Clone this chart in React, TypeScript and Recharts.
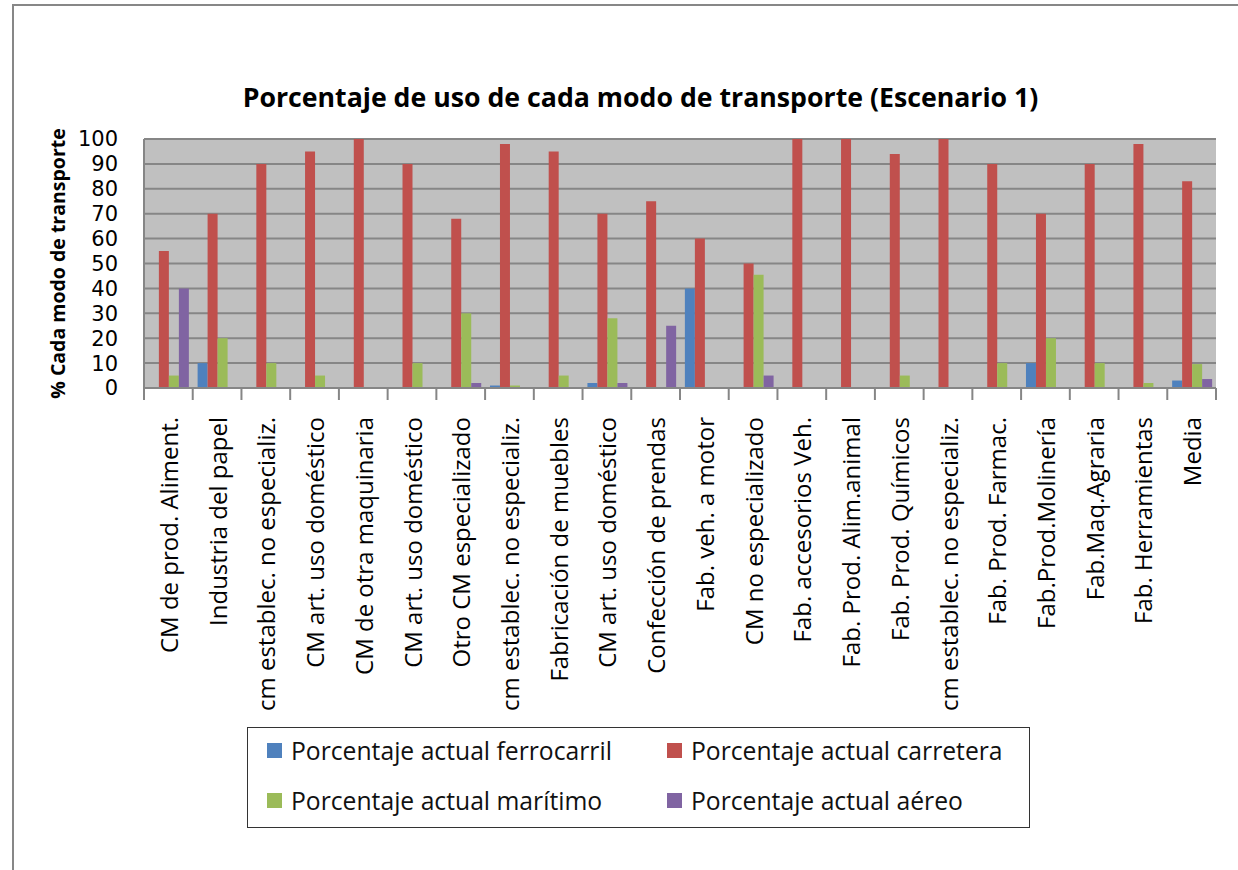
import { Bar, BarChart, CartesianGrid, Legend, XAxis, YAxis } from "recharts";

const categories = [
  "CM de prod. Aliment.",
  "Industria del papel",
  "cm establec. no especializ.",
  "CM art. uso doméstico",
  "CM de otra maquinaria",
  "CM art. uso doméstico",
  "Otro CM especializado",
  "cm establec. no especializ.",
  "Fabricación de muebles",
  "CM art. uso doméstico",
  "Confección de prendas",
  "Fab. veh. a motor",
  "CM no especializado",
  "Fab. accesorios Veh.",
  "Fab. Prod. Alim.animal",
  "Fab. Prod. Químicos",
  "cm establec. no especializ.",
  "Fab. Prod. Farmac.",
  "Fab.Prod.Molinería",
  "Fab.Maq.Agraria",
  "Fab. Herramientas",
  "Media",
];

const ferrocarril = [0, 10, 0, 0, 0, 0, 0, 1, 0, 2, 0, 40, 0, 0, 0, 0, 0, 0, 10, 0, 0, 3];
const carretera = [55, 70, 90, 95, 100, 90, 68, 98, 95, 70, 75, 60, 50, 100, 100, 94, 100, 90, 70, 90, 98, 83];
const maritimo = [5, 20, 10, 5, 0, 10, 30, 1, 5, 28, 0, 0, 45.5, 0, 0, 5, 0, 10, 20, 10, 2, 9.6];
const aereo = [40, 0, 0, 0, 0, 0, 2, 0, 0, 2, 25, 0, 5, 0, 0, 0, 0, 0, 0, 0, 0, 3.6];

const yTicks = [0, 10, 20, 30, 40, 50, 60, 70, 80, 90, 100];

// series order as in the legend: row 1 ferrocarril / carretera, row 2 marítimo / aéreo
const seriesKeys = ["ferrocarril", "carretera", "maritimo", "aereo"];

const data = categories.map((name, i) => ({
  id: i,
  name,
  ferrocarril: ferrocarril[i],
  carretera: carretera[i],
  maritimo: maritimo[i],
  aereo: aereo[i],
}));

const W = 1238;
const H = 870;
const PLOT_LEFT = 144;
const PLOT_RIGHT = 1216;
const STEP = (PLOT_RIGHT - PLOT_LEFT) / categories.length;
const GRID = "#868686";

function XTick(props: any) {
  const { x, y, payload, index } = props;
  const label = categories[payload.value];
  const last = index === categories.length - 1;
  const ty = y + 29;
  return (
    <g>
      <line x1={x - STEP / 2} x2={x - STEP / 2} y1={y} y2={y + 12} stroke={GRID} strokeWidth={2} />
      {last && <line x1={x + STEP / 2} x2={x + STEP / 2} y1={y} y2={y + 12} stroke={GRID} strokeWidth={2} />}
      <text
        x={x}
        y={ty}
        transform={`rotate(-90 ${x} ${ty})`}
        textAnchor="end"
        dominantBaseline="central"
        fontSize={24}
        fill="#000"
      >
        {label}
      </text>
    </g>
  );
}

function YLabel(props: any) {
  const { viewBox } = props;
  const cx = 57;
  const cy = viewBox.y + viewBox.height / 2;
  return (
    <text
      x={cx}
      y={cy}
      transform={`rotate(-90 ${cx} ${cy})`}
      textAnchor="middle"
      dominantBaseline="central"
      fontSize={19.5}
      fontWeight="bold"
      fill="#000"
    >
      % Cada modo de transporte
    </text>
  );
}

function LegendBox(props: any) {
  const items = [...(props.payload || [])].sort(
    (a: any, b: any) => seriesKeys.indexOf(a.dataKey) - seriesKeys.indexOf(b.dataKey)
  );
  return (
    <div
      style={{
        boxSizing: "border-box",
        width: 783,
        height: 101,
        border: "1.5px solid #333",
        background: "#fff",
        display: "grid",
        gridTemplateColumns: "400px 1fr",
        gridTemplateRows: "44px 56px",
        paddingLeft: 19,
        fontSize: 24.7,
        color: "#111",
      }}
    >
      {items.map((p: any) => (
        <div key={p.value} style={{ display: "flex", alignItems: "center", whiteSpace: "nowrap" }}>
          <span style={{ width: 15, height: 15, background: p.color, marginRight: 9, display: "inline-block" }} />
          <span>{p.value}</span>
        </div>
      ))}
    </div>
  );
}

export default function App() {
  return (
    <div
      style={{
        position: "fixed",
        left: 0,
        top: 0,
        width: W,
        height: H,
        overflow: "hidden",
        background: "#fff",
        fontFamily: "'Open Sans', sans-serif",
      }}
    >
      <div
        style={{
          position: "absolute",
          left: 12,
          top: 4,
          width: W + 20,
          height: H + 20,
          borderTop: "2px solid #878787",
          borderLeft: "2px solid #878787",
        }}
      />
      <div
        style={{
          position: "absolute",
          left: 0,
          top: 80,
          width: 1281,
          textAlign: "center",
          fontSize: 26.7,
          fontWeight: "bold",
          lineHeight: "34px",
        }}
      >
        Porcentaje de uso de cada modo de transporte (Escenario 1)
      </div>
      <BarChart
        width={W}
        height={H}
        data={data}
        margin={{ top: 139, right: W - PLOT_RIGHT, bottom: 452, left: 0 }}
        barCategoryGap="10%"
        barGap={0}
      >
        <CartesianGrid vertical={false} stroke={GRID} strokeWidth={2} fill="#C0C0C0" fillOpacity={1} />
        <XAxis
          dataKey="id"
          type="category"
          height={30}
          interval={0}
          tickLine={false}
          tickSize={0}
          tickMargin={0}
          axisLine={{ stroke: GRID, strokeWidth: 2 }}
          tick={<XTick />}
        />
        <YAxis
          width={PLOT_LEFT}
          domain={[0, 100]}
          ticks={yTicks}
          interval={0}
          tickLine={false}
          tickSize={0}
          tickMargin={26}
          axisLine={{ stroke: GRID, strokeWidth: 2 }}
          tick={{ fontSize: 21, fill: "#000", fontFamily: "'DejaVu Sans', sans-serif" }}
          label={<YLabel />}
        />
        <Legend
          verticalAlign="middle"
          align="center"
          wrapperStyle={{ left: 247, top: 727, width: 783, height: 101 }}
          content={<LegendBox />}
        />
        <Bar dataKey="ferrocarril" name="Porcentaje actual ferrocarril" fill="#4F81BD" isAnimationActive={false} />
        <Bar dataKey="carretera" name="Porcentaje actual carretera" fill="#C0504D" isAnimationActive={false} />
        <Bar dataKey="maritimo" name="Porcentaje actual marítimo" fill="#9BBB59" isAnimationActive={false} />
        <Bar dataKey="aereo" name="Porcentaje actual aéreo" fill="#8064A2" isAnimationActive={false} />
      </BarChart>
    </div>
  );
}
